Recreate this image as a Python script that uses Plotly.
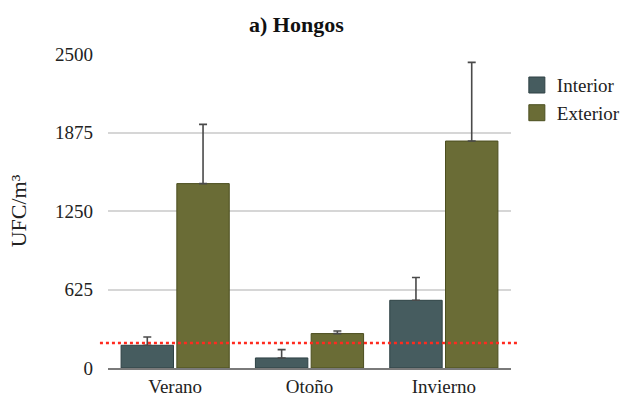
import plotly.graph_objects as go

# Fungal counts (UFC/m³) per season, indoor vs outdoor sampling
seasons = ["Verano", "Otoño", "Invierno"]
interior = [181, 80, 539]
interior_err = [66, 66, 181]
exterior = [1468, 274, 1807]
exterior_err = [472, 21, 626]
reference_limit = 200
y_ticks = [0, 625, 1250, 1875, 2500]

SERIF = "Liberation Serif, Times New Roman, serif"
INT_FILL, INT_EDGE = "#465c5f", "#2e4144"
EXT_FILL, EXT_EDGE = "#6a6c36", "#4b4e1f"

fig = go.Figure()

for name, vals, errs, fill, edge in [
    ("Interior", interior, interior_err, INT_FILL, INT_EDGE),
    ("Exterior", exterior, exterior_err, EXT_FILL, EXT_EDGE),
]:
    fig.add_trace(go.Bar(
        x=seasons, y=vals, name=name, showlegend=False,
        marker=dict(color=fill, line=dict(color=edge, width=1)),
        error_y=dict(type="data", array=errs, arrayminus=[0] * len(errs),
                     symmetric=False, color="#4a4a4a", thickness=1.6, width=4),
    ))
    # legend swatch as a larger square marker
    fig.add_trace(go.Scatter(
        x=[None], y=[None], mode="markers", name=name,
        marker=dict(symbol="square", size=16, color=fill,
                    line=dict(color=edge, width=1)),
    ))

# dotted reference threshold
fig.add_shape(type="line", xref="paper", yref="y",
              x0=-0.02, x1=1.018, y0=reference_limit, y1=reference_limit,
              line=dict(color="#ff2a1f", width=2.5, dash="dot"), layer="above")

fig.update_layout(
    width=628, height=401,
    margin=dict(l=108, r=117, t=54, b=33),
    paper_bgcolor="white", plot_bgcolor="white",
    barmode="group", bargap=0.17, bargroupgap=0.06,
    font=dict(family=SERIF, size=19, color="#222222"),
    title=dict(text="<b>a) Hongos</b>", font=dict(family=SERIF, size=22, color="#111111"),
               xref="container", yref="container", x=0.472, y=0.94,
               xanchor="center", yanchor="middle"),
    legend=dict(xref="container", yref="container", x=0.823, y=0.835,
                xanchor="left", yanchor="top", font=dict(family=SERIF, size=19),
                bgcolor="rgba(0,0,0,0)", itemsizing="trace", tracegroupgap=0),
    xaxis=dict(showline=True, linecolor="#7a7a7a", linewidth=2, ticks="",
               showgrid=False, tickfont=dict(family=SERIF, size=19), automargin=False),
    yaxis=dict(range=[0, 2500], tickvals=y_ticks, ticktext=[str(v) for v in y_ticks],
               showgrid=True, gridcolor="#d6d6d6", gridwidth=2, zeroline=False,
               showline=False, ticks="", ticklabelstandoff=14, automargin=False,
               tickfont=dict(family=SERIF, size=19),
               title=dict(text="UFC/m³", font=dict(family=SERIF, size=22), standoff=22)),
)

fig.write_html("out.html")
